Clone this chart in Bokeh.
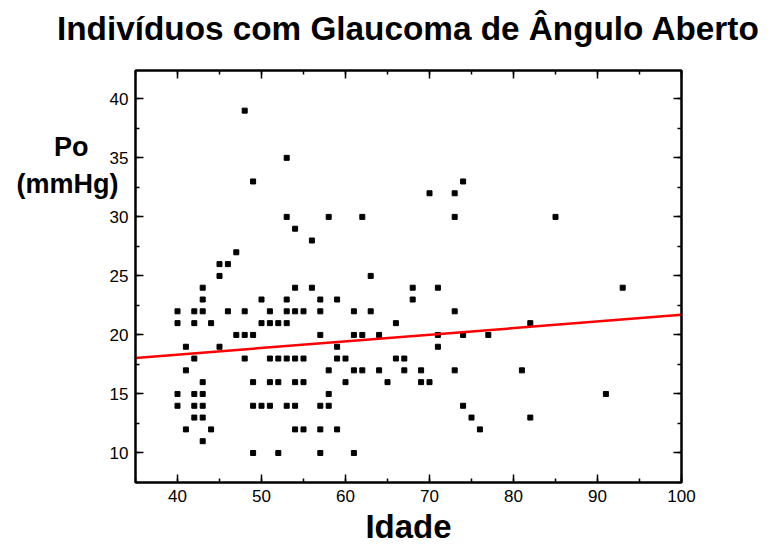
from bokeh.plotting import figure
from bokeh.models import LinearAxis, SingleIntervalTicker, Range1d
from bokeh.embed import file_html
from bokeh.resources import INLINE

# ---- data ----
ages = [48, 53, 49, 53, 58, 62, 54, 56, 47, 45, 46, 45, 63,
        74, 70, 73, 73, 85,
        68, 71, 68, 73, 82, 71, 74, 77, 71, 67, 67, 69, 73, 81, 69, 70, 91, 74, 75, 82, 76, 93,
        43, 54, 43, 50, 53, 40, 42, 43, 46, 48, 51, 53, 54, 40, 42, 44, 50, 51, 52, 53, 47, 48, 49, 41, 45,
        56, 57, 59, 55, 57, 61, 63, 66, 57, 61, 62, 64, 59,
        42, 48, 51, 52, 53, 54, 41, 43, 49, 51, 52, 54, 40, 42, 43, 40, 42, 43, 49, 50, 51, 53, 54, 42, 43,
        41, 44, 54, 43, 49, 52,
        55, 59, 60, 66, 58, 61, 62, 64, 55, 60, 65, 58, 57, 58, 55, 57, 59, 57, 61]

pressures = [39, 35, 33, 30, 30, 30, 29, 28, 27, 26, 26, 25, 25,
             33, 32, 32, 30, 30,
             24, 24, 23, 22, 21, 20, 20, 20, 19, 18, 17, 17, 17, 17, 16, 16, 15, 14, 13, 13, 12, 24,
             24, 24, 23, 23, 23, 22, 22, 22, 22, 22, 22, 22, 22, 21, 21, 21, 21, 21, 21, 21, 20, 20, 20, 19, 19,
             24, 23, 23, 22, 22, 22, 22, 21, 20, 20, 20, 20, 19,
             18, 18, 18, 18, 18, 18, 17, 16, 16, 16, 16, 16, 15, 15, 15, 14, 14, 14, 14, 14, 14, 14, 14, 13, 13,
             12, 12, 12, 11, 10, 10,
             18, 18, 18, 18, 17, 17, 17, 17, 16, 16, 16, 15, 14, 14, 12, 12, 12, 10, 10]

fit_x = [35, 100]
fit_y = [18.05, 21.7]

title_text = "Indivíduos com Glaucoma de Ângulo Aberto"
x_label = "Idade"
y_label_lines = ["Po", "(mmHg)"]

FONT = "Liberation Sans"
nb = "\u00a0"

p = figure(width=769, height=550, output_backend="svg", toolbar_location=None,
           x_range=Range1d(35, 100), y_range=Range1d(7.5, 42.4),
           min_border_left=135, min_border_right=88, min_border_top=70, min_border_bottom=68)

bottom_axis = p.below[0]
left_axis = p.left[0]

# title with a blank padding line below it, so it sits higher in the top border
p.title.text = title_text + "\n" + nb
p.title.align = "center"
p.title.vertical_align = "top"
p.title.text_font = FONT
p.title.text_font_size = "33.3px"
p.title.text_font_style = "bold"
p.title.text_color = "black"
p.title.text_line_height = 0.6
p.title.standoff = 0

p.xgrid.visible = False
p.ygrid.visible = False
p.outline_line_color = "black"
p.outline_line_width = 2
p.background_fill_color = "white"
p.border_fill_color = "white"

top_axis = LinearAxis()
right_axis = LinearAxis()
p.add_layout(top_axis, "above")
p.add_layout(right_axis, "right")

for ax in [bottom_axis, top_axis]:
    ax.ticker = SingleIntervalTicker(interval=10, num_minor_ticks=2)
for ax in [left_axis, right_axis]:
    ax.ticker = SingleIntervalTicker(interval=5, num_minor_ticks=2)

for ax in [bottom_axis, left_axis, top_axis, right_axis]:
    ax.axis_line_width = 2
    ax.axis_line_color = "black"
    ax.major_tick_in = 8
    ax.major_tick_out = 0
    ax.minor_tick_in = 4
    ax.minor_tick_out = 0
    ax.major_tick_line_width = 1.5
    ax.minor_tick_line_width = 1.5
    ax.major_tick_line_color = "black"
    ax.minor_tick_line_color = "black"
    ax.major_label_text_font = FONT
    ax.major_label_text_font_size = "17px"
    ax.major_label_text_color = "black"
    ax.major_label_standoff = 7

# mirrored axes: ticks only, no labels drawn
for ax in [top_axis, right_axis]:
    ax.major_label_text_font_size = "1px"
    ax.major_label_text_color = None
    ax.major_label_standoff = 0

bottom_axis.axis_label = x_label
bottom_axis.axis_label_text_font = FONT
bottom_axis.axis_label_text_font_size = "33px"
bottom_axis.axis_label_text_font_style = "bold"
bottom_axis.axis_label_text_color = "black"
bottom_axis.axis_label_standoff = 3

# two-line y label, lifted toward the top of the axis with blank padding lines;
# non-breaking spaces after "Po" centre it over "(mmHg)" in the right-aligned box
y_lines = [y_label_lines[0] + nb * 4, y_label_lines[1]]
left_axis.axis_label = "\n".join(y_lines + [nb] * 6)
left_axis.axis_label_orientation = "horizontal"
left_axis.axis_label_text_font = FONT
left_axis.axis_label_text_font_size = "27px"
left_axis.axis_label_text_font_style = "bold"
left_axis.axis_label_text_color = "black"
left_axis.axis_label_text_line_height = 1.23
left_axis.axis_label_standoff = -12

p.scatter(ages, pressures, marker="square", size=5, color="black")
p.line(fit_x, fit_y, line_color="#ff0000", line_width=2.5)

open("out.html", "w").write(file_html(p, INLINE))
